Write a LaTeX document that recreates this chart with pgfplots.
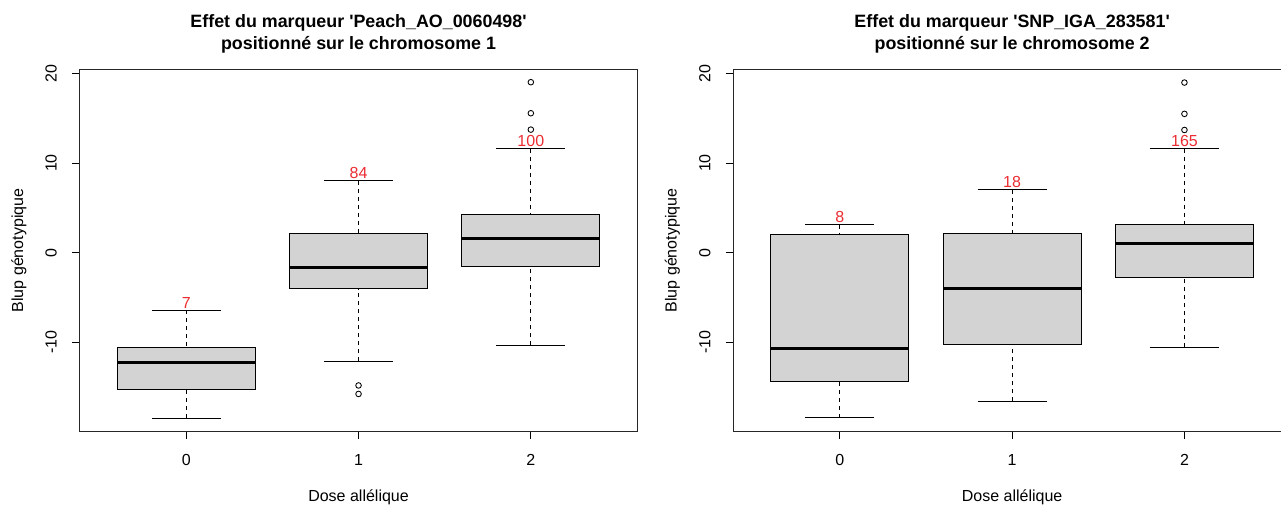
\documentclass[border=0pt]{standalone}
\usepackage{fontspec}
\setmainfont{Liberation Sans}
\usepackage{pgfplots}
\usepackage{pgfplotstable}
\pgfplotsset{compat=1.18}
\usepgfplotslibrary{statistics}
\definecolor{boxgray}{RGB}{211,211,211}
\definecolor{rred}{RGB}{235,45,50}
\newcommand{\fs}{\fontsize{12}{14}\selectfont}
\newcommand{\ft}{\fontsize{13.4}{16}\selectfont}
\pgfplotsset{
  boxplot/draw/lower whisker/.code={%
    \draw[black, line width=0.75pt, dash pattern=on 3pt off 3pt]
      (boxplot box cs:\pgfplotsboxplotvalue{lower whisker},0.5) --
      (boxplot box cs:\pgfplotsboxplotvalue{lower quartile},0.5);
    \draw[black, line width=0.75pt]
      (boxplot whisker cs:\pgfplotsboxplotvalue{lower whisker},0) --
      (boxplot whisker cs:\pgfplotsboxplotvalue{lower whisker},1);
  },
  boxplot/draw/upper whisker/.code={%
    \draw[black, line width=0.75pt, dash pattern=on 3pt off 3pt]
      (boxplot box cs:\pgfplotsboxplotvalue{upper whisker},0.5) --
      (boxplot box cs:\pgfplotsboxplotvalue{upper quartile},0.5);
    \draw[black, line width=0.75pt]
      (boxplot whisker cs:\pgfplotsboxplotvalue{upper whisker},0) --
      (boxplot whisker cs:\pgfplotsboxplotvalue{upper whisker},1);
  },
  rbox/.style={
    width=418.7pt, height=271.8pt, scale only axis,
    xmin=0.38, xmax=3.62, ymin=-20.02, ymax=20.48,
    xtick={1,2,3}, xticklabels={0,1,2},
    ytick={-10,0,10,20},
    tick align=outside, xtick pos=left, ytick pos=left,
    major tick length=5.25pt,
    tick style={black, line width=0.75pt},
    axis line style={black!85, line width=0.75pt},
    /pgf/number format/assume math mode=true,
    tick label style={font=\fs},
    yticklabel style={xshift=-11.8pt, rotate=90, anchor=base},
    xticklabel style={anchor=base, yshift=-20.25pt},
    boxplot/draw direction=y,
    boxplot/box extend=0.8,
    boxplot/whisker extend=0.4,
    boxplot/every box/.style={fill=boxgray, draw=black, line width=0.75pt},
    boxplot/every median/.style={black, line width=2.25pt},
    clip=false,
  },
  outl/.style={black, mark=o, mark size=2.1pt, mark options={line width=0.65pt}},
  counts/.style={only marks, mark=none, nodes near coords, point meta=explicit symbolic,
    nodes near coords style={rred, anchor=base, yshift=1.5pt, font=\fs}},
}
\pgfplotstableread{
x y n
1 -6.45 7
2 8.0 84
3 11.61 100
}\countsA
\pgfplotstableread{
x y n
1 3.12 8
2 7.02 18
3 11.6 165
}\countsB
\begin{document}
\begin{tikzpicture}
\path[use as bounding box] (0,0) rectangle (960.75pt,-378pt);
\clip (0,0) rectangle (960.75pt,-378pt);
% ---------------- left panel
\begin{axis}[rbox, at={(59.55pt,-323.78pt)}, anchor=south west]
\addplot[boxplot prepared={draw position=1, lower whisker=-18.5, lower quartile=-15.3, median=-12.24, upper quartile=-10.64, upper whisker=-6.45}, outl] coordinates {};
\addplot[boxplot prepared={draw position=2, lower whisker=-12.13, lower quartile=-4.03, median=-1.68, upper quartile=2.13, upper whisker=8.0}, outl] coordinates {(0,-14.85) (0,-15.8)};
\addplot[boxplot prepared={draw position=3, lower whisker=-10.34, lower quartile=-1.57, median=1.57, upper quartile=4.26, upper whisker=11.61}, outl] coordinates {(0,19.04) (0,15.57) (0,13.74)};
\addplot[counts] table[x=x, y=y, meta=n] {\countsA};
\node[anchor=base, font=\fs] at (axis description cs:0.5,-0.1932) {Dose allélique};
\node[anchor=base, rotate=90, font=\fs] at (axis description cs:-0.101,0.5) {Blup génotypique};
\node[anchor=base, font=\bfseries\ft] at (axis description cs:0.5,1.1159) {Effet du marqueur \textquotesingle Peach\_AO\_0060498\textquotesingle};
\node[anchor=base, font=\bfseries\ft] at (axis description cs:0.5,1.0533) {positionné sur le chromosome 1};
\end{axis}
% ---------------- right panel
\begin{axis}[rbox, at={(549.75pt,-323.78pt)}, anchor=south west]
\addplot[boxplot prepared={draw position=1, lower whisker=-18.44, lower quartile=-14.43, median=-10.7, upper quartile=2.07, upper whisker=3.12}, outl] coordinates {};
\addplot[boxplot prepared={draw position=2, lower whisker=-16.61, lower quartile=-10.26, median=-4.01, upper quartile=2.15, upper whisker=7.02}, outl] coordinates {};
\addplot[boxplot prepared={draw position=3, lower whisker=-10.6, lower quartile=-2.75, median=1.0, upper quartile=3.12, upper whisker=11.6}, outl] coordinates {(0,19.0) (0,15.5) (0,13.7)};
\addplot[counts] table[x=x, y=y, meta=n] {\countsB};
\node[anchor=base, font=\fs] at (axis description cs:0.5,-0.1932) {Dose allélique};
\node[anchor=base, rotate=90, font=\fs] at (axis description cs:-0.101,0.5) {Blup génotypique};
\node[anchor=base, font=\bfseries\ft] at (axis description cs:0.5,1.1159) {Effet du marqueur \textquotesingle SNP\_IGA\_283581\textquotesingle};
\node[anchor=base, font=\bfseries\ft] at (axis description cs:0.5,1.0533) {positionné sur le chromosome 2};
\end{axis}
\end{tikzpicture}
\end{document}
